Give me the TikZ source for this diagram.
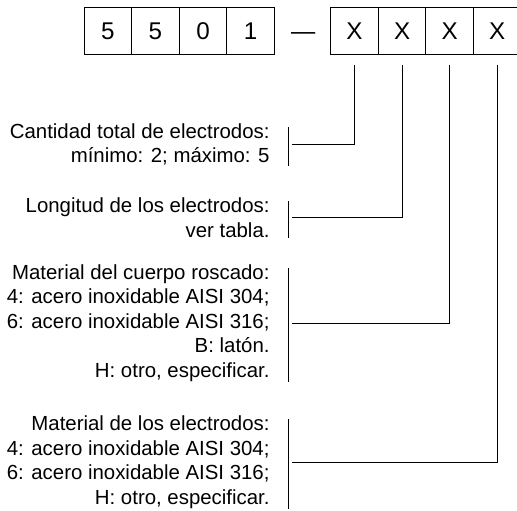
\documentclass[tikz,border=0pt]{standalone}
\usepackage{fontspec}
\setmainfont{Liberation Sans}
\tikzset{
  digitbox/.style={draw,line width=0.9pt,minimum width=47.6pt,minimum height=47pt,
    inner sep=0pt,font=\fontsize{24.2}{29}\selectfont,text height=17.3pt,text depth=0pt},
  note/.style={align=right,anchor=east,inner sep=0pt,font=\fontsize{20.4}{24.5}\selectfont},
}
\begin{document}
\begin{tikzpicture}[x=1pt,y=-1pt,line width=0.9pt]
\useasboundingbox (0,0) rectangle (517,511);

% code boxes
\foreach \d [count=\i] in {5,5,0,1}
  \node[digitbox] (d\i) at ({84+47.6*(\i-0.5)},30.5) {\d};
\node[digitbox,draw=none] (dash) at (303.3,30.5) {—};
\foreach \i in {1,...,4}
  \node[digitbox] (x\i) at ({330.7+47.6*(\i-0.5)},30.5) {X};

% descriptions
\node[note] (t1) at (270,144.6) {Cantidad total de electrodos:\\ mínimo: 2; máximo: 5};
\node[note] (t2) at (270,217.6) {Longitud de los electrodos:\\ ver tabla.};
\node[note] (t3) at (270,323) {Material del cuerpo roscado:\\ 4: acero inoxidable AISI 304;\\
  6: acero inoxidable AISI 316;\\ B: latón.\\ H: otro, especificar.};
\node[note] (t4) at (270,462) {Material de los electrodos:\\ 4: acero inoxidable AISI 304;\\
  6: acero inoxidable AISI 316;\\ H: otro, especificar.};

% brackets and leaders
\foreach \i in {1,...,4}{
  \draw[shorten <=4pt] ([xshift=18.3pt]t\i.north east) -- ([xshift=18.3pt]t\i.south east);
  \draw ([yshift=-11pt]x\i.south) |- ([xshift=22pt]t\i.east);
}
\end{tikzpicture}
\end{document}
